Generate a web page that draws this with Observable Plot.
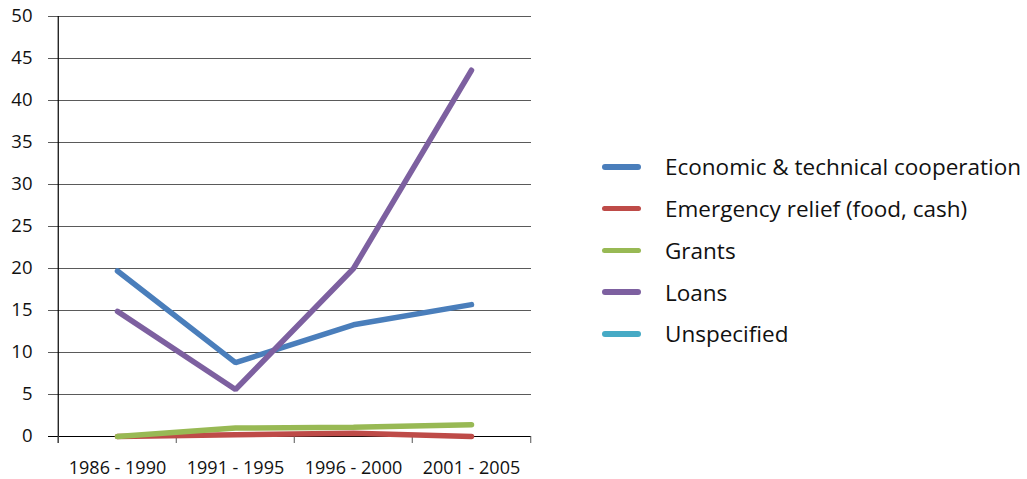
<!DOCTYPE html>
<html><head><meta charset="utf-8">
<script src="https://cdn.jsdelivr.net/npm/d3@7"></script>
<script src="https://cdn.jsdelivr.net/npm/@observablehq/plot@0.6"></script>
<style>
body{margin:0;background:#fff;font-family:"Open Sans",sans-serif;}
#wrap{position:relative;width:1027px;height:479px;}
#chart{position:absolute;left:0;top:0;}
#legend{position:absolute;left:602px;top:146px;}
.item{display:flex;align-items:center;height:41.75px;font-size:22.5px;color:#111;white-space:nowrap;}
.sw{width:39px;height:5.5px;border-radius:3px;margin-right:24px;}
</style></head>
<body><div id="wrap"><div id="chart"></div><div id="legend"></div></div>
<script>
const periods = ["1986 - 1990","1991 - 1995","1996 - 2000","2001 - 2005"];
const seriesNames = ["Economic & technical cooperation","Emergency relief (food, cash)","Grants","Loans","Unspecified"];
const colors = ["#4A7EBB","#BE4B48","#98B954","#7D60A0","#46AAC5"];
const economic = [19.7, 8.8, 13.3, 15.7];
const emergency = [0, 0.2, 0.4, 0.0];
const grants = [0, 1.0, 1.1, 1.4];
const loans = [14.9, 5.6, 20.0, 43.6];
const unspecified = [null, null, null, null];
const yTicks = [0,5,10,15,20,25,30,35,40,45,50];

const seriesValues = [economic, emergency, grants, loans, unspecified];
const data = [];
const order = [4,0,3,1,2];
for (const i of order) periods.forEach((p,j)=>data.push({series:seriesNames[i], period:p, value:seriesValues[i][j]}));

const half = 59.25;
const plot = Plot.plot({
  width: 560, height: 479,
  marginLeft: 57, marginRight: 29, marginTop: 16, marginBottom: 43,
  style: {fontFamily: "'Open Sans', sans-serif", fontSize: "18px", color: "#111", overflow: "visible"},
  x: {type: "point", domain: periods, padding: 0.5, axis: null},
  y: {domain: [0,50], axis: null},
  color: {domain: seriesNames, range: colors},
  marks: [
    Plot.ruleY(yTicks.filter(d=>d>0), {y: d=>d, stroke: "#5a5a5a", strokeWidth: 1.2, insetLeft: -9}),
    Plot.ruleY([0], {stroke: "#000", strokeWidth: 1.2, insetLeft: -9}),
    Plot.ruleX([periods[0]], {dx: -half, y1: 50, y2: 0, insetBottom: -7, stroke: "#000", strokeWidth: 1.2}),
    Plot.ruleX(periods, {dx: -half, y1: 0, y2: 0, insetBottom: -7, stroke: "#555"}),
    Plot.ruleX([periods[3]], {dx: half, y1: 0, y2: 0, insetBottom: -7, stroke: "#555"}),
    Plot.text(yTicks, {y: d=>d, frameAnchor: "left", text: d=>String(d), dx: -25, textAnchor: "end", fontSize: 18.5, fill: "#111"}),
    Plot.text(periods, {x: d=>d, y: () => 0, text: d=>d, dy: 32, fontSize: 18, fill: "#111"}),
    Plot.line(data, {x: "period", y: "value", z: "series", stroke: "series", strokeWidth: 5.5, strokeLinecap: "round", strokeLinejoin: "miter"})
  ]
});
document.getElementById("chart").append(plot);

const leg = document.getElementById("legend");
seriesNames.forEach((n,i)=>{
  const it = document.createElement("div"); it.className="item";
  const sw = document.createElement("div"); sw.className="sw"; sw.style.background=colors[i];
  const t = document.createElement("span"); t.textContent=n;
  it.append(sw,t); leg.append(it);
});
</script></body></html>
